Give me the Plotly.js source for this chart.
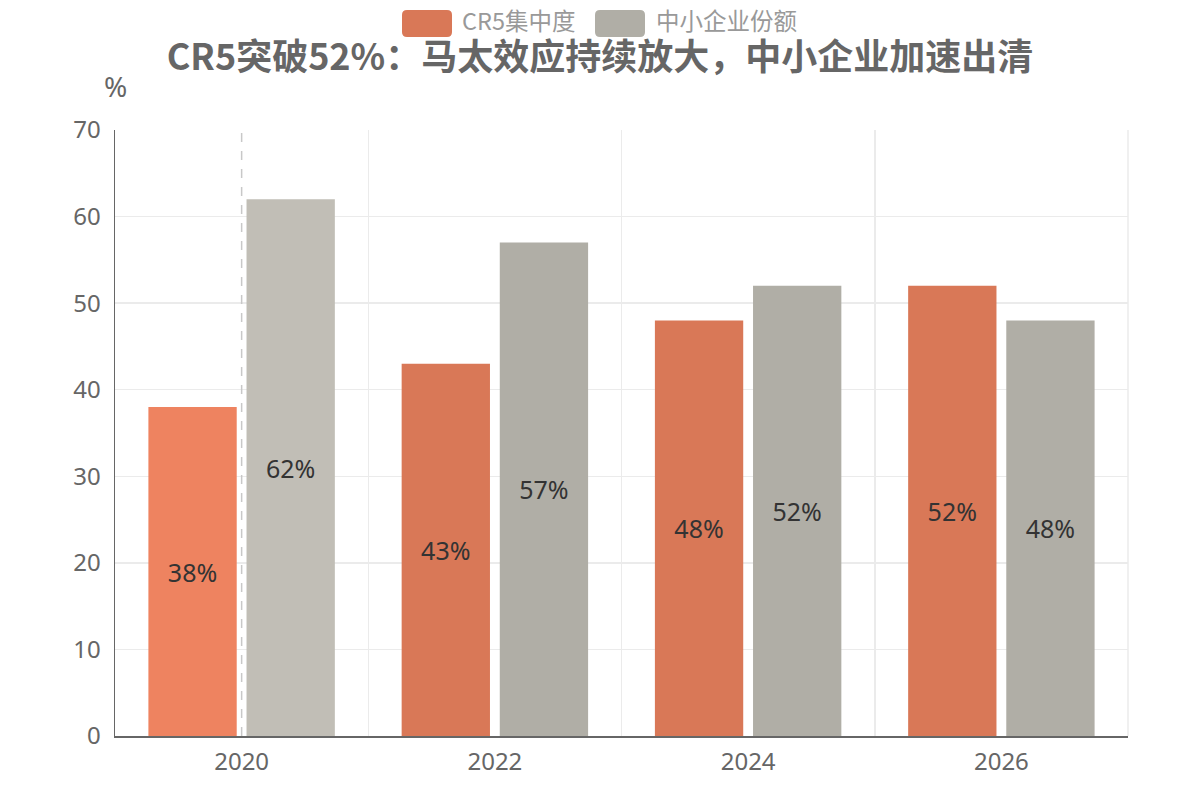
<!DOCTYPE html>
<html>
<head>
<meta charset="utf-8">
<script src="https://cdn.plot.ly/plotly-3.0.1.min.js"></script>
<style>
  html, body { margin: 0; padding: 0; background: #fff; }
  #chart { width: 1200px; height: 800px; }
</style>
</head>
<body>
<div id="chart"></div>
<script>
// Market structure: top-5 concentration vs. SME share (%)
const years = ['2020', '2022', '2024', '2026'];
const cr5Share = [38, 43, 48, 52];
const smeShare = [62, 57, 52, 48];
const seriesNames = ['CR5集中度', '中小企业份额'];
const highlightYear = '2020';

const chartTitle = 'CR5突破52%：马太效应持续放大，中小企业加速出清';
const yUnit = '%';

const orange = '#D97857';
const orangeHi = '#EE8360';
const gray = '#B0AEA6';
const grayHi = '#C1BEB6';

const hiIdx = years.indexOf(highlightYear);
const colorsFor = (base, hi) => years.map((y, i) => (i === hiIdx ? hi : base));

const fontFamily = '"Noto Sans", "Noto Sans CJK SC", sans-serif';
const cjkFamily = '"Noto Sans CJK SC", "Noto Sans", sans-serif';

const labelFont = { family: fontFamily, size: 25, color: '#333333' };

const traces = [
  {
    type: 'bar',
    name: seriesNames[0],
    x: years,
    y: cr5Share,
    text: cr5Share.map(v => v + '%'),
    textposition: 'inside',
    insidetextanchor: 'middle',
    textangle: 0,
    constraintext: 'none',
    textfont: labelFont,
    marker: { color: colorsFor(orange, orangeHi), line: { width: 0 } },
    hoverinfo: 'skip'
  },
  {
    type: 'bar',
    name: seriesNames[1],
    x: years,
    y: smeShare,
    text: smeShare.map(v => v + '%'),
    textposition: 'inside',
    insidetextanchor: 'middle',
    textangle: 0,
    constraintext: 'none',
    textfont: labelFont,
    marker: { color: colorsFor(gray, grayHi), line: { width: 0 } },
    hoverinfo: 'skip'
  }
];

// plot area geometry (pixels) used to place the custom legend
const W = 1200, H = 800;
const M = { l: 115, r: 72, t: 130, b: 64 };
const pw = W - M.l - M.r, ph = H - M.t - M.b;
const px2x = px => (px - M.l) / pw;
const py2y = py => (H - M.b - py) / ph;

function roundRect(x0, y0, x1, y1, r) {
  const X = v => px2x(v).toFixed(5), Y = v => py2y(v).toFixed(5);
  return 'M' + X(x0 + r) + ',' + Y(y0) +
    ' L' + X(x1 - r) + ',' + Y(y0) +
    ' Q' + X(x1) + ',' + Y(y0) + ' ' + X(x1) + ',' + Y(y0 + r) +
    ' L' + X(x1) + ',' + Y(y1 - r) +
    ' Q' + X(x1) + ',' + Y(y1) + ' ' + X(x1 - r) + ',' + Y(y1) +
    ' L' + X(x0 + r) + ',' + Y(y1) +
    ' Q' + X(x0) + ',' + Y(y1) + ' ' + X(x0) + ',' + Y(y1 - r) +
    ' L' + X(x0) + ',' + Y(y0 + r) +
    ' Q' + X(x0) + ',' + Y(y0) + ' ' + X(x0 + r) + ',' + Y(y0) + ' Z';
}

const legendItems = [
  { name: seriesNames[0], color: orange, sx: 402, tx: 460 },
  { name: seriesNames[1], color: gray, sx: 595, tx: 654 }
];

const shapes = [
  // hover guide on the highlighted year
  {
    type: 'line', xref: 'x', yref: 'paper',
    x0: hiIdx, x1: hiIdx, y0: 0, y1: 1,
    line: { color: '#C8C8C8', width: 1.5, dash: 'dash' },
    layer: 'above'
  }
];
const annotations = [
  {
    text: yUnit, xref: 'paper', yref: 'paper',
    x: px2x(115), y: py2y(86), xanchor: 'center', yanchor: 'middle',
    showarrow: false, font: { family: fontFamily, size: 28, color: '#666666' }
  }
];
legendItems.forEach(it => {
  shapes.push({
    type: 'path', xref: 'paper', yref: 'paper',
    path: roundRect(it.sx, 10, it.sx + 50, 37, 5),
    fillcolor: it.color, line: { width: 0 }, layer: 'above'
  });
  annotations.push({
    text: it.name, xref: 'paper', yref: 'paper',
    x: px2x(it.tx), y: py2y(20), xanchor: 'left', yanchor: 'middle',
    showarrow: false, font: { family: cjkFamily, size: 23.5, color: '#999999' }
  });
});

const layout = {
  width: W, height: H,
  margin: M,
  paper_bgcolor: '#ffffff',
  plot_bgcolor: '#ffffff',
  showlegend: false,
  barmode: 'group',
  bargap: 0.225,
  bargroupgap: 0.1,
  title: {
    text: '<b>' + chartTitle + '</b>',
    x: 0.5, xanchor: 'center',
    y: 1 - 57 / H, yanchor: 'middle', yref: 'container',
    font: { family: cjkFamily, size: 36, color: '#666666' }
  },
  xaxis: {
    type: 'category',
    tickson: 'boundaries',
    showgrid: true,
    gridcolor: '#EBEBEB',
    gridwidth: 1.5,
    showline: true,
    linecolor: '#666666',
    linewidth: 1.5,
    ticks: '',
    ticklabelstandoff: 4,
    tickfont: { family: fontFamily, size: 24, color: '#666666' },
    zeroline: false,
    fixedrange: true
  },
  yaxis: {
    range: [0, 70],
    dtick: 10,
    showgrid: true,
    gridcolor: '#EBEBEB',
    gridwidth: 1.5,
    showline: true,
    linecolor: '#666666',
    linewidth: 1.5,
    ticks: '',
    ticklabelstandoff: 8,
    tickfont: { family: fontFamily, size: 24, color: '#666666' },
    zeroline: false,
    fixedrange: true
  },
  shapes: shapes,
  annotations: annotations
};

// right border of the plot frame
layout.shapes.push({
  type: 'line', xref: 'paper', yref: 'paper',
  x0: 1, x1: 1, y0: 0, y1: 1,
  line: { color: '#EBEBEB', width: 1.5 }, layer: 'below'
});

Plotly.newPlot('chart', traces, layout, { displayModeBar: false, staticPlot: true });
</script>
</body>
</html>
